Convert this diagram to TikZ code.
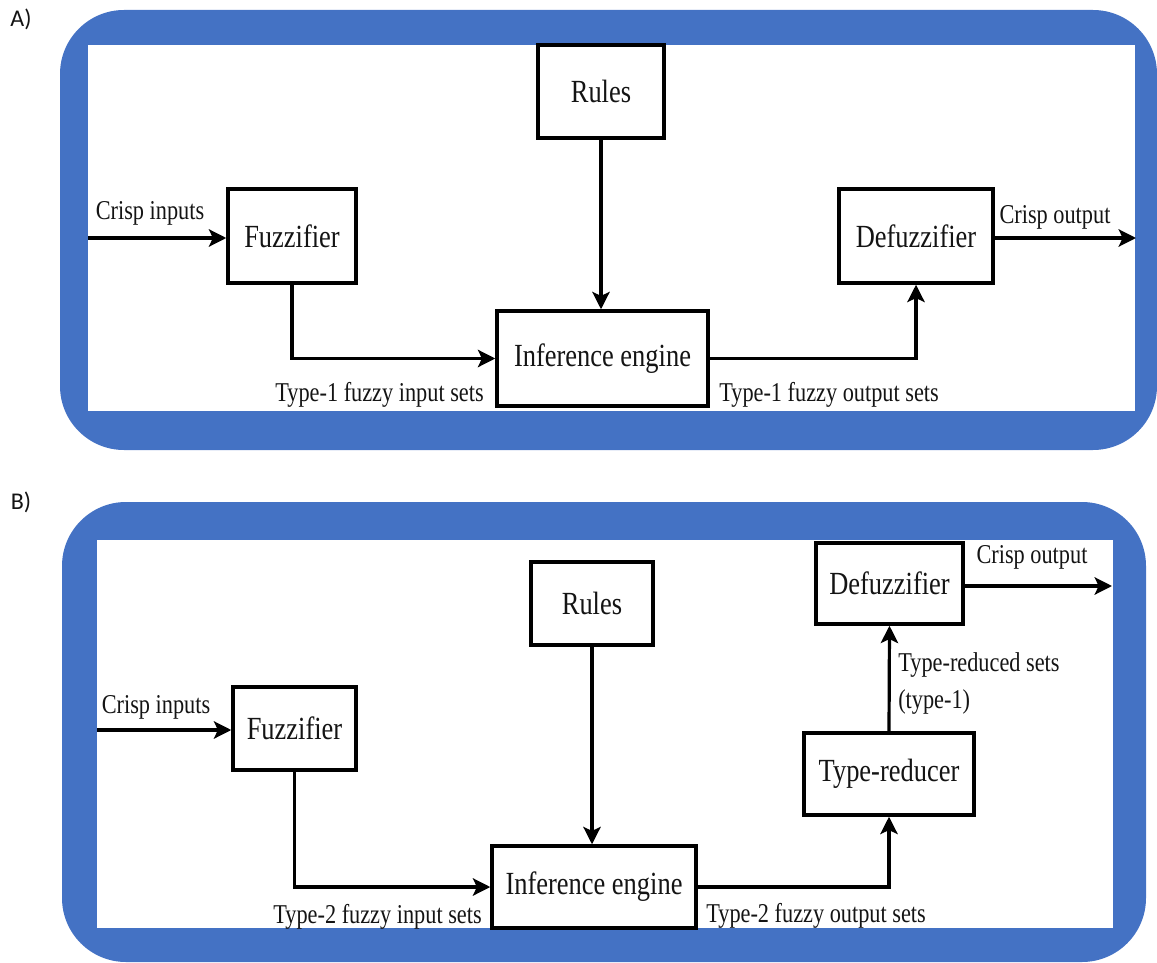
\documentclass[tikz,border=0pt]{standalone}
\usepackage{fontspec}
\setmainfont{Liberation Serif}
\newfontfamily\boxfont{Liberation Serif}[FakeStretch=0.82]
\newfontfamily\panelfont{Carlito}
\usetikzlibrary{arrows.meta}
\definecolor{framebl}{RGB}{68,114,196}
\definecolor{ink}{RGB}{20,20,20}
\tikzset{
  blockbox/.style={draw=black, line width=2.6pt, inner sep=0pt, text=ink,
    font=\boxfont\fontsize{24.2pt}{29pt}\selectfont},
  flowlabel/.style={inner sep=0pt, text=ink, align=left,
    font=\boxfont\fontsize{20.4pt}{24.4pt}\selectfont},
  flow/.style={draw=black, line width=2.4pt,
    -{Stealth[length=13pt,width=13pt,inset=3pt]}},
  panellabel/.style={inner sep=0pt, text=ink,
    font=\panelfont\fontsize{18pt}{21pt}\selectfont},
}
\begin{document}
\begin{tikzpicture}[x=0.75pt,y=-0.75pt]
\useasboundingbox (0,0) rectangle (1157,963);

% ---------- panel A: type-1 fuzzy logic system ----------
\node[panellabel] (labA) at (21,19) {A)};
\fill[framebl, rounded corners=48pt] (60,10) rectangle (1157,450);
\fill[white] (88,45) rectangle (1135,411);

\node[blockbox, minimum width=94.5pt, minimum height=69.75pt] (rulesA) at (601,91.5) {Rules};
\node[blockbox, minimum width=96pt, minimum height=70.5pt] (fuzzA) at (292,236) {Fuzzifier};
\node[blockbox, minimum width=158.25pt, minimum height=71.25pt] (infA) at (602.5,358.5) {Inference engine};
\node[blockbox, minimum width=115.5pt, minimum height=70.5pt] (defA) at (916,236) {Defuzzifier};

\coordinate (inA) at (88,238);
\coordinate (outA) at (1136,238);

\draw[flow] (inA) -- (fuzzA.west |- inA);
\draw[flow] (fuzzA.south) |- (infA.west);
\draw[flow] (rulesA.south) -- (rulesA.south |- infA.north);
\draw[flow] (infA.east) -| (defA.south);
\draw[flow] (defA.east |- outA) -- (outA);

\node[flowlabel] (crispinA) at (150,213) {Crisp inputs};
\node[flowlabel, anchor=east] (t1in) at (484,395) {Type-1 fuzzy input sets};
\node[flowlabel, anchor=west] (t1out) at (719,395) {Type-1 fuzzy output sets};
\node[flowlabel] (crispoutA) at (1055,217) {Crisp output};

% ---------- panel B: type-2 fuzzy logic system ----------
\node[panellabel] (labB) at (21,502) {B)};
\fill[framebl, rounded corners=48pt] (62,502) rectangle (1146,962);
\fill[white] (97,540) rectangle (1113,928);

\node[blockbox, minimum width=91.5pt, minimum height=62.25pt] (rulesB) at (592,603.5) {Rules};
\node[blockbox, minimum width=92.25pt, minimum height=62.25pt] (fuzzB) at (294.5,728.5) {Fuzzifier};
\node[blockbox, minimum width=153pt, minimum height=61.5pt] (infB) at (594,887) {Inference engine};
\node[blockbox, minimum width=127.5pt, minimum height=61.5pt] (redB) at (889,774) {Type-reducer};
\node[blockbox, minimum width=110.25pt, minimum height=60.75pt] (defB) at (889.5,583.5) {Defuzzifier};

\coordinate (inB) at (97,730);
\coordinate (outB) at (1112,586);

\draw[flow] (inB) -- (fuzzB.west |- inB);
\draw[flow] (fuzzB.south) |- (infB.west);
\draw[flow] (rulesB.south) -- (rulesB.south |- infB.north);
\draw[flow] (infB.east) -| (redB.south);
\draw[flow] (redB.north) -- (defB.south);
\draw[flow] (defB.east |- outB) -- (outB);

\node[flowlabel] (crispinB) at (156,707) {Crisp inputs};
\node[flowlabel, anchor=east] (t2in) at (482,917) {Type-2 fuzzy input sets};
\node[flowlabel, anchor=west] (t2out) at (706,916) {Type-2 fuzzy output sets};
\node[flowlabel, anchor=west] (redsets) at (898,683.5) {Type-reduced sets\\[4pt](type-1)};
\node[flowlabel] (crispoutB) at (1032,557) {Crisp output};
\end{tikzpicture}
\end{document}
